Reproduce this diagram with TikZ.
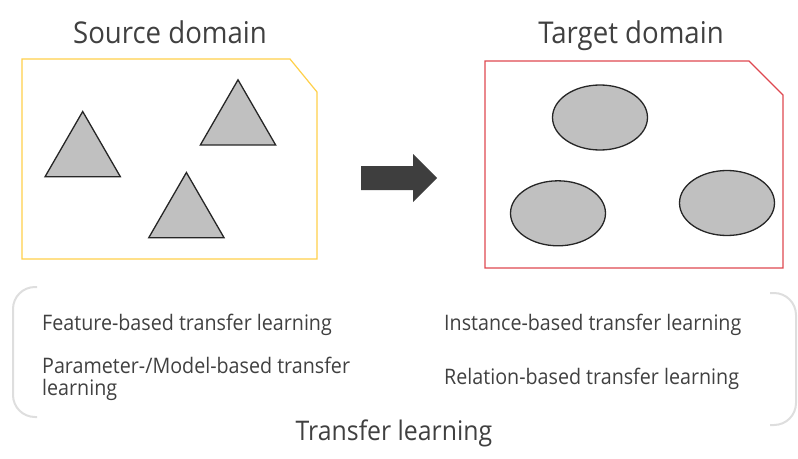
\documentclass[tikz,border=0pt]{standalone}
\usepackage{fontspec}
\setmainfont{Open Sans}[FakeStretch=0.92]
\usetikzlibrary{positioning,shapes.geometric,calc}
\definecolor{lineafuente}{RGB}{255,208,74}
\definecolor{lineadestino}{RGB}{222,72,80}
\definecolor{relleno}{RGB}{192,192,192}
\definecolor{borde}{RGB}{38,38,38}
\definecolor{textogris}{RGB}{64,64,64}
\definecolor{flechagris}{RGB}{62,62,62}
\definecolor{llavegris}{RGB}{222,222,222}

\begin{document}
\begin{tikzpicture}[x=1pt, y=-1pt,
  titulo/.style={font=\fontsize{30}{34}\selectfont, text=textogris,
    inner sep=0pt, anchor=base},
  entrada/.style={font=\fontsize{21.4}{22}\selectfont, text=textogris,
    align=left, inner sep=0pt, anchor=base west},
  marco/.style={line width=1.2pt, line join=miter},
  triangulo/.style={regular polygon, regular polygon sides=3,
    minimum size=87pt, inner sep=0pt, fill=relleno, draw=borde,
    line width=1.3pt},
  ovalo/.style={ellipse, minimum width=95pt, minimum height=65pt,
    inner sep=0pt, fill=relleno, draw=borde, line width=1.3pt},
  llave/.style={draw=llavegris, line width=2pt, rounded corners=22pt},
]
  \useasboundingbox (0,0) rectangle (798,458);
  % Titulos
  \node[titulo] (tfuente) at (170,43) {Source domain};
  \node[titulo] (tdestino) at (631,43) {Target domain};
  % Marcos
  \draw[marco, draw=lineafuente] (22,59) -- (290,59) -- (317,92)
    -- (317,259) -- (22,259) -- cycle;
  \draw[marco, draw=lineadestino] (485,61) -- (749,61) -- (783,95)
    -- (783,268) -- (485,268) -- cycle;
  % Triangulos
  \node[triangulo] (t1) at (82.7,155) {};
  \node[triangulo] (t2) at (238,123.3) {};
  \node[triangulo] (t3) at (186.4,216) {};
  % Elipses
  \node[ovalo] (e1) at (600,117.5) {};
  \node[ovalo] (e2) at (558,213.3) {};
  \node[ovalo] (e3) at (727,203) {};
  % Flecha
  \coordinate (cola) at (361,178);
  \coordinate (punta) at (437,178);
  \fill[flechagris] ($(cola)+(0,-12)$) -- ($(punta)+(-24,-12)$)
    -- ($(punta)+(-24,-24)$) -- (punta) -- ($(punta)+(-24,24)$)
    -- ($(punta)+(-24,12)$) -- ($(cola)+(0,12)$) -- cycle;
  % Llaves
  \draw[llave] (37,287) -- (13,287) -- (13,417) -- (37,417);
  \draw[llave] (770,293) -- (796,293) -- (796,425) -- (770,425);
  % Tipos
  \node[entrada] (feature) at (42,330) {Feature-based transfer learning};
  \node[entrada] (param) at (42,395)
    {Parameter-/Model-based transfer\\learning};
  \node[entrada] (instance) at (444,330) {Instance-based transfer learning};
  \node[entrada] (relation) at (444,384) {Relation-based transfer learning};
  \node[titulo, font=\fontsize{27}{32}\selectfont] (ttransfer) at (394,440)
    {Transfer learning};
\end{tikzpicture}
\end{document}
